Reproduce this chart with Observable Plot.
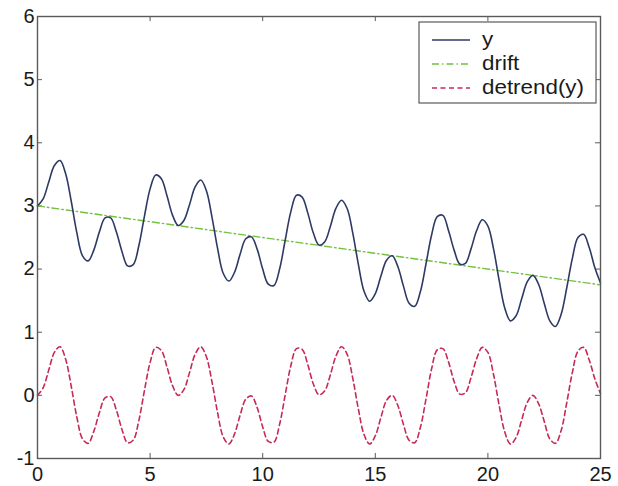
<!DOCTYPE html>
<html>
<head>
<meta charset="utf-8">
<script src="https://cdn.jsdelivr.net/npm/d3@7"></script>
<script src="https://cdn.jsdelivr.net/npm/@observablehq/plot@0.6"></script>
<style>
  html, body { margin: 0; padding: 0; background: #fff; }
  #chart { width: 618px; height: 486px; }
  svg { font-family: "Liberation Sans", Arial, sans-serif; }
</style>
</head>
<body>
<div id="chart"></div>
<script>
// time samples (step 0.25 from 0 to 25)
const tValues = d3.range(0, 25.001, 0.25).map(v => +v.toFixed(2));

// signal y
const yValues = [
  3.00, 3.11, 3.38, 3.64, 3.72, 3.51, 3.07, 2.57, 2.21, 2.13,
  2.30, 2.59, 2.81, 2.81, 2.59, 2.28, 2.05, 2.07, 2.37, 2.84,
  3.27, 3.49, 3.43, 3.16, 2.85, 2.69, 2.77, 3.02, 3.30, 3.41,
  3.24, 2.82, 2.32, 1.93, 1.81, 1.95, 2.24, 2.48, 2.51, 2.32,
  2.00, 1.76, 1.74, 2.00, 2.46, 2.91, 3.17, 3.14, 2.89, 2.57,
  2.38, 2.43, 2.67, 2.96, 3.09, 2.96, 2.57, 2.07, 1.65, 1.49,
  1.61, 1.89, 2.14, 2.21, 2.04, 1.73, 1.46, 1.41, 1.64, 2.08,
  2.54, 2.83, 2.85, 2.61, 2.30, 2.08, 2.09, 2.32, 2.61, 2.78,
  2.68, 2.32, 1.82, 1.38, 1.18, 1.26, 1.53, 1.80, 1.90, 1.76,
  1.46, 1.18, 1.09, 1.28, 1.70, 2.17, 2.50, 2.55, 2.34, 2.02,
  1.78
];

// detrended signal
const detrendValues = [
  0.00, 0.12, 0.40, 0.68, 0.77, 0.57, 0.14, -0.35, -0.69, -0.76,
  -0.57, -0.27, -0.04, -0.02, -0.23, -0.54, -0.75, -0.71, -0.40, 0.08,
  0.52, 0.76, 0.71, 0.45, 0.15, 0.00, 0.09, 0.36, 0.65, 0.77,
  0.61, 0.21, -0.28, -0.66, -0.77, -0.61, -0.31, -0.06, -0.01, -0.19,
  -0.50, -0.73, -0.74, -0.46, 0.01, 0.47, 0.74, 0.73, 0.49, 0.18,
  0.01, 0.07, 0.32, 0.62, 0.77, 0.65, 0.27, -0.22, -0.62, -0.77,
  -0.64, -0.35, -0.08, 0.00, -0.16, -0.46, -0.71, -0.75, -0.51, -0.06,
  0.42, 0.72, 0.74, 0.53, 0.22, 0.02, 0.04, 0.28, 0.58, 0.76,
  0.68, 0.33, -0.16, -0.58, -0.77, -0.67, -0.39, -0.11, 0.00, -0.13,
  -0.41, -0.69, -0.76, -0.56, -0.12, 0.36, 0.70, 0.76, 0.56, 0.26,
  0.03
];

// linear drift (end points)
const driftT = [0, 25];
const driftValues = [3.0, 1.75];

// ticks
const xTicks = [0, 5, 10, 15, 20, 25];
const yTicks = [-1, 0, 1, 2, 3, 4, 5, 6];

// legend labels
const seriesNames = ["y", "drift", "detrend(y)"];

const ySeries = tValues.map((t, i) => ({t, v: yValues[i]}));
const dSeries = tValues.map((t, i) => ({t, v: detrendValues[i]}));
const driftSeries = driftT.map((t, i) => ({t, v: driftValues[i]}));

const colY = "#2c3a64";
const colDrift = "#74c043";
const colDet = "#c62a55";
const axisCol = "#5a5a5a";

const plot = Plot.plot({
  width: 618,
  height: 486,
  marginLeft: 37,
  marginRight: 18,
  marginTop: 16,
  marginBottom: 28,
  style: {fontFamily: "'Liberation Sans', Arial, sans-serif", fontSize: "20px", background: "#fff", color: "#1a1a1a"},
  x: {domain: [0, 25], ticks: xTicks, label: null},
  y: {domain: [-1, 6], ticks: yTicks, label: null},
  marks: [
    Plot.axisX(xTicks, {tickSize: 0, tickPadding: 8, fontSize: 20, label: null, tickFormat: d3.format("d")}),
    Plot.axisY(yTicks, {tickSize: 0, tickPadding: 3, fontSize: 20, label: null, tickFormat: d => d < 0 ? "-" + Math.abs(d) : String(d)}),
    // inward tick marks (bottom/top/left/right)
    Plot.ruleX(xTicks, {x: d => d, y1: -1, y2: -0.92, stroke: axisCol}),
    Plot.ruleX(xTicks, {x: d => d, y1: 6, y2: 5.92, stroke: axisCol}),
    Plot.ruleY(yTicks, {y: d => d, x1: 0, x2: 0.22, stroke: axisCol}),
    Plot.ruleY(yTicks, {y: d => d, x1: 25, x2: 24.78, stroke: axisCol}),
    Plot.line(driftSeries, {x: "t", y: "v", stroke: colDrift, strokeWidth: 1.4, strokeDasharray: "7,3,1.5,3"}),
    Plot.line(dSeries, {x: "t", y: "v", stroke: colDet, strokeWidth: 1.6, strokeDasharray: "5,3.5", curve: "catmull-rom"}),
    Plot.line(ySeries, {x: "t", y: "v", stroke: colY, strokeWidth: 1.6, curve: "catmull-rom"}),
    Plot.frame({stroke: axisCol, strokeWidth: 1.4})
  ]
});

document.getElementById("chart").appendChild(plot);

// legend inside the plot, top-right
const svg = d3.select(plot);
const lg = svg.append("g").attr("class", "legend").attr("text-anchor", "start");
lg.append("rect")
  .attr("x", 419).attr("y", 22).attr("width", 177).attr("height", 81)
  .attr("fill", "#fff").attr("stroke", axisCol).attr("stroke-width", 1.2);
const styles = [
  {stroke: colY, dash: null, w: 1.6},
  {stroke: colDrift, dash: "7,3,1.5,3", w: 1.4},
  {stroke: colDet, dash: "5,3.5", w: 1.6}
];
const rowY = [40, 64, 88];
seriesNames.forEach((name, i) => {
  lg.append("line")
    .attr("x1", 432).attr("x2", 470).attr("y1", rowY[i]).attr("y2", rowY[i])
    .attr("stroke", styles[i].stroke).attr("stroke-width", styles[i].w)
    .attr("stroke-dasharray", styles[i].dash);
  lg.append("text")
    .attr("transform", `translate(482,${rowY[i]}) scale(1.12,1)`)
    .attr("dy", "0.32em")
    .attr("text-anchor", "start")
    .attr("font-size", 20).attr("fill", "#1a1a1a")
    .text(name);
});
</script>
</body>
</html>
